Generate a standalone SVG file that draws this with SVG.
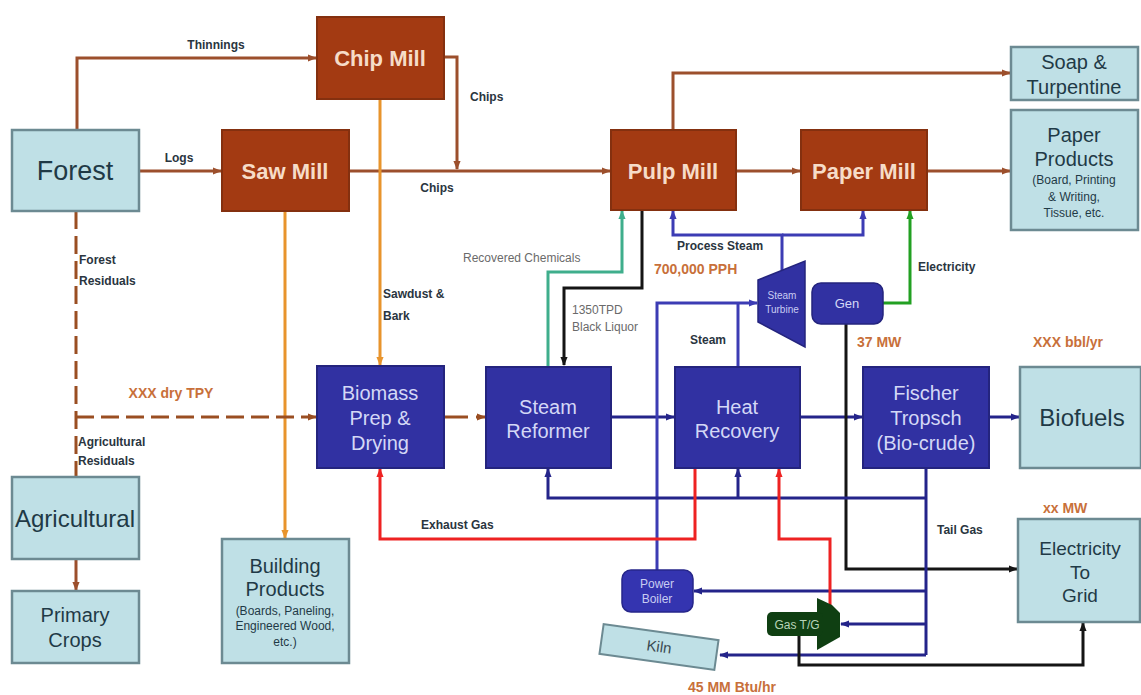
<svg xmlns="http://www.w3.org/2000/svg" width="1141" height="695" viewBox="0 0 1141 695">
<style>
text{font-family:"Liberation Sans",Arial,sans-serif}
.brown rect{fill:#a33a12;stroke:#84300f;stroke-width:2}
.brown text{fill:#f6dcc8;font-size:22px;font-weight:bold;text-anchor:middle}
.lb rect{fill:#bfe0e6;stroke:#6c8a92;stroke-width:2.5}
.lb text{fill:#1f3a46;text-anchor:middle}
.nv rect{fill:#3131a2;stroke:#24247e;stroke-width:2}
.nv text{fill:#d4d8f6;text-anchor:middle;font-size:20px}
.c path{fill:none;stroke-width:3}
.br{stroke:#9c4f2c}
.or{stroke:#e8942c}
.ds{stroke:#9a4e22;stroke-dasharray:18 7}
.nvl{stroke:#24248a}
.bl{stroke:#3c3cb4}
.rd{stroke:#ee2222}
.gr{stroke:#22a022}
.tl{stroke:#3fae8c}
.bk{stroke:#151515}
.lab{font-size:12px;font-weight:bold;fill:#2a3540}
.gl{font-size:12px;fill:#6a6a6a}
.ol{font-size:14px;font-weight:bold;fill:#c8703a}
</style>
<defs>
<marker id="mBr" viewBox="0 0 10 10" refX="9" refY="5" markerWidth="9" markerHeight="9" markerUnits="userSpaceOnUse" orient="auto"><path d="M0,1 L10,5 L0,9 z" fill="#9c4f2c"/></marker>
<marker id="mOr" viewBox="0 0 10 10" refX="9" refY="5" markerWidth="9" markerHeight="9" markerUnits="userSpaceOnUse" orient="auto"><path d="M0,1 L10,5 L0,9 z" fill="#e8942c"/></marker>
<marker id="mDs" viewBox="0 0 10 10" refX="9" refY="5" markerWidth="9" markerHeight="9" markerUnits="userSpaceOnUse" orient="auto"><path d="M0,1 L10,5 L0,9 z" fill="#9a4e22"/></marker>
<marker id="mNv" viewBox="0 0 10 10" refX="9" refY="5" markerWidth="9" markerHeight="9" markerUnits="userSpaceOnUse" orient="auto"><path d="M0,1 L10,5 L0,9 z" fill="#24248a"/></marker>
<marker id="mBl" viewBox="0 0 10 10" refX="9" refY="5" markerWidth="9" markerHeight="9" markerUnits="userSpaceOnUse" orient="auto"><path d="M0,1 L10,5 L0,9 z" fill="#3c3cb4"/></marker>
<marker id="mRd" viewBox="0 0 10 10" refX="9" refY="5" markerWidth="9" markerHeight="9" markerUnits="userSpaceOnUse" orient="auto"><path d="M0,1 L10,5 L0,9 z" fill="#ee2222"/></marker>
<marker id="mGr" viewBox="0 0 10 10" refX="9" refY="5" markerWidth="9" markerHeight="9" markerUnits="userSpaceOnUse" orient="auto"><path d="M0,1 L10,5 L0,9 z" fill="#22a022"/></marker>
<marker id="mTl" viewBox="0 0 10 10" refX="9" refY="5" markerWidth="9" markerHeight="9" markerUnits="userSpaceOnUse" orient="auto"><path d="M0,1 L10,5 L0,9 z" fill="#3fae8c"/></marker>
<marker id="mBk" viewBox="0 0 10 10" refX="9" refY="5" markerWidth="9" markerHeight="9" markerUnits="userSpaceOnUse" orient="auto"><path d="M0,1 L10,5 L0,9 z" fill="#151515"/></marker>
</defs>
<rect width="1141" height="695" fill="#ffffff"/>

<g id="connectors" class="c">
<path class="br" d="M77,130 V58 H316" marker-end="url(#mBr)"/>
<path class="br" d="M139,171 H221" marker-end="url(#mBr)"/>
<path class="br" d="M444,57 H457 V169" marker-end="url(#mBr)"/>
<path class="br" d="M349,171 H610" marker-end="url(#mBr)"/>
<path class="br" d="M736,171 H800" marker-end="url(#mBr)"/>
<path class="br" d="M927,171 H1010" marker-end="url(#mBr)"/>
<path class="br" d="M673,130 V73 H1010" marker-end="url(#mBr)"/>
<path class="or" d="M380,99 V365" marker-end="url(#mOr)"/>
<path class="or" d="M285,211 V538" marker-end="url(#mOr)"/>
<path class="ds" d="M76,211 V477"/>
<path class="ds" d="M76,417 H316" marker-end="url(#mDs)"/>
<path class="br" d="M76,559 V590" marker-end="url(#mBr)"/>
<path class="ds" style="stroke-dasharray:24 8" d="M444,417 H485" marker-end="url(#mDs)"/>
<path class="nvl" d="M611,417 H674" marker-end="url(#mNv)"/>
<path class="nvl" d="M800,417 H862" marker-end="url(#mNv)"/>
<path class="nvl" d="M989,417 H1019" marker-end="url(#mNv)"/>
<path class="tl" d="M548,366 V272 H622 V211" marker-end="url(#mTl)"/>
<path class="bk" d="M642,210 V288 H564 V365" marker-end="url(#mBk)"/>
<path class="bl" d="M782,270 V235 H673 V211" marker-end="url(#mBl)"/>
<path class="bl" d="M782,235 H863 V211" marker-end="url(#mBl)"/>
<path class="bl" d="M738,366 V303"/>
<path class="bl" d="M657,570 V303 H757" marker-end="url(#mBl)"/>
<path class="gr" d="M883,303 H910 V211" marker-end="url(#mGr)"/>
<path class="bk" d="M846,324 V569 H1017" marker-end="url(#mBk)"/>
<path class="nvl" d="M926,468 V655"/>
<path class="nvl" d="M926,498 H548 V469" marker-end="url(#mNv)"/>
<path class="nvl" d="M738,498 V469" marker-end="url(#mNv)"/>
<path class="nvl" d="M926,591 H694" marker-end="url(#mNv)"/>
<path class="nvl" d="M926,624 H841" marker-end="url(#mNv)"/>
<path class="nvl" d="M926,655 H720" marker-end="url(#mNv)"/>
<path class="rd" d="M695,468 V539 H380 V469" marker-end="url(#mRd)"/>
<path class="rd" d="M830,605 V539 H779 V469" marker-end="url(#mRd)"/>
<path class="bk" d="M799,636 V665 H1083 V623" marker-end="url(#mBk)"/>
</g>

<g id="forest" class="lb"><rect x="12" y="130" width="127" height="81"/><text x="75" y="180" font-size="27">Forest</text></g>
<g id="chip-mill" class="brown"><rect x="317" y="17" width="127" height="82"/><text x="380" y="66">Chip Mill</text></g>
<g id="saw-mill" class="brown"><rect x="222" y="130" width="127" height="81"/><text x="285" y="179">Saw Mill</text></g>
<g id="pulp-mill" class="brown"><rect x="611" y="130" width="125" height="80"/><text x="673" y="179">Pulp Mill</text></g>
<g id="paper-mill" class="brown"><rect x="801" y="130" width="126" height="80"/><text x="864" y="179">Paper Mill</text></g>
<g id="soap" class="lb"><rect x="1011" y="47" width="127" height="53"/><text x="1074" y="69" font-size="20">Soap &amp;</text><text x="1074" y="94" font-size="20">Turpentine</text></g>
<g id="paper-products" class="lb"><rect x="1011" y="110" width="127" height="120"/><text x="1074" y="142" font-size="20">Paper</text><text x="1074" y="166" font-size="20">Products</text><text x="1074" y="184" font-size="12">(Board, Printing</text><text x="1074" y="201" font-size="12">&amp; Writing,</text><text x="1074" y="217" font-size="12">Tissue, etc.</text></g>
<g id="biomass" class="nv"><rect x="317" y="366" width="127" height="102"/><text x="380" y="400">Biomass</text><text x="380" y="425">Prep &amp;</text><text x="380" y="450">Drying</text></g>
<g id="steam-reformer" class="nv"><rect x="486" y="367" width="125" height="101"/><text x="548" y="414">Steam</text><text x="548" y="438">Reformer</text></g>
<g id="heat-recovery" class="nv"><rect x="675" y="367" width="125" height="101"/><text x="737" y="414">Heat</text><text x="737" y="438">Recovery</text></g>
<g id="fischer-tropsch" class="nv"><rect x="863" y="367" width="126" height="101"/><text x="926" y="400">Fischer</text><text x="926" y="425">Tropsch</text><text x="926" y="450">(Bio-crude)</text></g>
<g id="biofuels" class="lb"><rect x="1020" y="367" width="121" height="101"/><text x="1082" y="426" font-size="24">Biofuels</text></g>
<g id="agricultural" class="lb"><rect x="12" y="477" width="127" height="82"/><text x="75" y="527" font-size="24">Agricultural</text></g>
<g id="primary-crops" class="lb"><rect x="12" y="591" width="127" height="72"/><text x="75" y="622" font-size="20">Primary</text><text x="75" y="647" font-size="20">Crops</text></g>
<g id="building-products" class="lb"><rect x="222" y="539" width="127" height="124"/><text x="285" y="573" font-size="20">Building</text><text x="285" y="596" font-size="20">Products</text><text x="285" y="615" font-size="12">(Boards, Paneling,</text><text x="285" y="630" font-size="12">Engineered Wood,</text><text x="285" y="646" font-size="12">etc.)</text></g>
<g id="electricity-grid" class="lb"><rect x="1018" y="519" width="122" height="103"/><text x="1080" y="555" font-size="19">Electricity</text><text x="1080" y="579" font-size="19">To</text><text x="1080" y="602" font-size="19">Grid</text></g>
<g id="steam-turbine"><polygon points="758,280 805,261 805,347 758,322" fill="#3131a2" stroke="#24247e" stroke-width="1.5"/><text x="782" y="299" font-size="10" fill="#c8ccf2" text-anchor="middle">Steam</text><text x="782" y="313" font-size="10" fill="#c8ccf2" text-anchor="middle">Turbine</text></g>
<g id="gen"><rect x="812" y="283" width="71" height="41" rx="9" fill="#3131a2" stroke="#24247e" stroke-width="1.5"/><text x="847" y="308" font-size="13" fill="#d4d8f6" text-anchor="middle">Gen</text></g>
<g id="power-boiler"><rect x="622" y="570" width="71" height="42" rx="9" fill="#3434b0" stroke="#26268a" stroke-width="1.5"/><text x="657" y="588" font-size="12" fill="#c8ccf2" text-anchor="middle">Power</text><text x="657" y="603" font-size="12" fill="#c8ccf2" text-anchor="middle">Boiler</text></g>
<g id="gas-tg"><polygon points="817,598 832,605 840,613 840,637 817,650" fill="#0f3f12"/><rect x="767" y="612" width="56" height="24" rx="5" fill="#0f3f12"/><text x="797" y="629" font-size="12" fill="#b8d4b8" text-anchor="middle">Gas T/G</text></g>
<g id="kiln" transform="translate(659,647) rotate(8)"><rect x="-58" y="-15" width="116" height="30" fill="#bfe0e6" stroke="#6c8a92" stroke-width="2"/><text x="0" y="5" font-size="15" fill="#3a4a52" text-anchor="middle">Kiln</text></g>

<g id="labels">
<text class="lab" x="216" y="49" text-anchor="middle">Thinnings</text>
<text class="lab" x="179" y="162" text-anchor="middle">Logs</text>
<text class="lab" x="470" y="101">Chips</text>
<text class="lab" x="437" y="192" text-anchor="middle">Chips</text>
<text class="lab" x="79" y="264">Forest</text>
<text class="lab" x="79" y="285">Residuals</text>
<text class="lab" x="383" y="298" font-size="13">Sawdust &amp;</text>
<text class="lab" x="383" y="320" font-size="13">Bark</text>
<text class="ol" x="171" y="398" text-anchor="middle">XXX dry TPY</text>
<text class="lab" x="78" y="446">Agricultural</text>
<text class="lab" x="78" y="465">Residuals</text>
<text class="lab" x="421" y="529">Exhaust Gas</text>
<text class="gl" x="463" y="262">Recovered Chemicals</text>
<text class="gl" x="572" y="314">1350TPD</text>
<text class="gl" x="572" y="331">Black Liquor</text>
<text class="lab" x="677" y="250" fill="#505a6a">Process Steam</text>
<text class="ol" x="654" y="274">700,000 PPH</text>
<text class="lab" x="690" y="344" font-size="11">Steam</text>
<text class="lab" x="918" y="271" fill="#505a60">Electricity</text>
<text class="ol" x="857" y="347">37 MW</text>
<text class="ol" x="1033" y="347">XXX bbl/yr</text>
<text class="lab" x="937" y="534" font-size="13">Tail Gas</text>
<text class="ol" x="1043" y="513" font-size="15">xx MW</text>
<text class="ol" x="688" y="692" font-size="13">45 MM Btu/hr</text>
</g>
</svg>
